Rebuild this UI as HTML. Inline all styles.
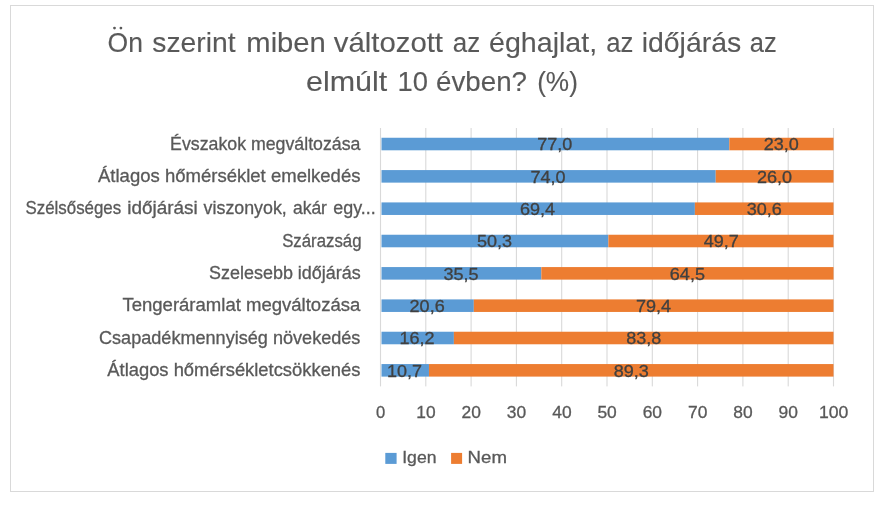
<!DOCTYPE html>
<html><head><meta charset="utf-8"><title>Chart</title>
<style>
html,body{margin:0;padding:0;background:#fff;}
body{width:884px;height:507px;overflow:hidden;}
svg{display:block;font-family:"Liberation Sans",sans-serif;will-change:transform;}
</style></head><body>
<svg width="884" height="507" viewBox="0 0 884 507">
<rect x="0" y="0" width="884" height="507" fill="#ffffff"/>
<g>
<rect x="10.5" y="5.5" width="863" height="486" fill="#fff" stroke="#d9d9d9" stroke-width="1"/>
<rect x="379.95" y="128.0" width="1.1" height="258.4" fill="#d9d9d9"/>
<rect x="425.25" y="128.0" width="1.1" height="258.4" fill="#d9d9d9"/>
<rect x="470.55" y="128.0" width="1.1" height="258.4" fill="#d9d9d9"/>
<rect x="515.85" y="128.0" width="1.1" height="258.4" fill="#d9d9d9"/>
<rect x="561.15" y="128.0" width="1.1" height="258.4" fill="#d9d9d9"/>
<rect x="606.45" y="128.0" width="1.1" height="258.4" fill="#d9d9d9"/>
<rect x="651.75" y="128.0" width="1.1" height="258.4" fill="#d9d9d9"/>
<rect x="697.05" y="128.0" width="1.1" height="258.4" fill="#d9d9d9"/>
<rect x="742.35" y="128.0" width="1.1" height="258.4" fill="#d9d9d9"/>
<rect x="787.65" y="128.0" width="1.1" height="258.4" fill="#d9d9d9"/>
<rect x="832.95" y="128.0" width="1.1" height="258.4" fill="#d9d9d9"/>
<rect x="381.50" y="137.75" width="347.81" height="12.55" fill="#5b9bd5"/>
<rect x="729.31" y="137.75" width="104.19" height="12.55" fill="#ed7d31"/>
<rect x="381.50" y="170.08" width="334.22" height="12.55" fill="#5b9bd5"/>
<rect x="715.72" y="170.08" width="117.78" height="12.55" fill="#ed7d31"/>
<rect x="381.50" y="202.41" width="313.38" height="12.55" fill="#5b9bd5"/>
<rect x="694.88" y="202.41" width="138.62" height="12.55" fill="#ed7d31"/>
<rect x="381.50" y="234.74" width="226.86" height="12.55" fill="#5b9bd5"/>
<rect x="608.36" y="234.74" width="225.14" height="12.55" fill="#ed7d31"/>
<rect x="381.50" y="267.07" width="159.82" height="12.55" fill="#5b9bd5"/>
<rect x="541.32" y="267.07" width="292.18" height="12.55" fill="#ed7d31"/>
<rect x="381.50" y="299.40" width="92.32" height="12.55" fill="#5b9bd5"/>
<rect x="473.82" y="299.40" width="359.68" height="12.55" fill="#ed7d31"/>
<rect x="381.50" y="331.73" width="72.39" height="12.55" fill="#5b9bd5"/>
<rect x="453.89" y="331.73" width="379.61" height="12.55" fill="#ed7d31"/>
<rect x="381.50" y="364.06" width="47.47" height="12.55" fill="#5b9bd5"/>
<rect x="428.97" y="364.06" width="404.53" height="12.55" fill="#ed7d31"/>
<text transform="translate(170.08 149.70) scale(0.9975 1)" font-size="17.8" fill="#595959" stroke="#595959" stroke-width="0.3">Évszakok megváltozása</text>
<text transform="translate(537.27 150.45) scale(1.0677 1)" font-size="16.9" fill="#404040" stroke="#404040" stroke-width="0.3">77,0</text>
<text transform="translate(763.77 150.45) scale(1.0677 1)" font-size="16.9" fill="#404040" stroke="#404040" stroke-width="0.3">23,0</text>
<text transform="translate(98.00 182.03) scale(1.0410 1)" font-size="17.8" fill="#595959" stroke="#595959" stroke-width="0.3">Átlagos hőmérséklet emelkedés</text>
<text transform="translate(530.48 182.78) scale(1.0677 1)" font-size="16.9" fill="#404040" stroke="#404040" stroke-width="0.3">74,0</text>
<text transform="translate(756.98 182.78) scale(1.0677 1)" font-size="16.9" fill="#404040" stroke="#404040" stroke-width="0.3">26,0</text>
<text transform="translate(25.44 214.36) scale(0.9497 1)" font-size="17.8" fill="#595959" stroke="#595959" stroke-width="0.3">Szélsőséges</text>
<text transform="translate(127.27 214.36) scale(1.0641 1)" font-size="17.8" fill="#595959" stroke="#595959" stroke-width="0.3">időjárási</text>
<text transform="translate(203.61 214.36) scale(1.0020 1)" font-size="17.8" fill="#595959" stroke="#595959" stroke-width="0.3">viszonyok,</text>
<text transform="translate(292.90 214.36) scale(0.9835 1)" font-size="17.8" fill="#595959" stroke="#595959" stroke-width="0.3">akár</text>
<text transform="translate(333.28 214.36) scale(1.0057 1)" font-size="17.8" fill="#595959" stroke="#595959" stroke-width="0.3">egy...</text>
<text transform="translate(520.01 215.11) scale(1.0678 1)" font-size="16.9" fill="#404040" stroke="#404040" stroke-width="0.3">69,4</text>
<text transform="translate(746.69 215.11) scale(1.0678 1)" font-size="16.9" fill="#404040" stroke="#404040" stroke-width="0.3">30,6</text>
<text transform="translate(282.14 246.69) scale(0.9446 1)" font-size="17.8" fill="#595959" stroke="#595959" stroke-width="0.3">Szárazság</text>
<text transform="translate(476.93 247.44) scale(1.0678 1)" font-size="16.9" fill="#404040" stroke="#404040" stroke-width="0.3">50,3</text>
<text transform="translate(703.70 247.44) scale(1.0679 1)" font-size="16.9" fill="#404040" stroke="#404040" stroke-width="0.3">49,7</text>
<text transform="translate(209.09 279.02) scale(1.0088 1)" font-size="17.8" fill="#595959" stroke="#595959" stroke-width="0.3">Szelesebb időjárás</text>
<text transform="translate(443.41 279.77) scale(1.0678 1)" font-size="16.9" fill="#404040" stroke="#404040" stroke-width="0.3">35,5</text>
<text transform="translate(669.82 279.77) scale(1.0677 1)" font-size="16.9" fill="#404040" stroke="#404040" stroke-width="0.3">64,5</text>
<text transform="translate(122.43 311.35) scale(1.0416 1)" font-size="17.8" fill="#595959" stroke="#595959" stroke-width="0.3">Tengeráramlat megváltozása</text>
<text transform="translate(409.57 312.10) scale(1.0677 1)" font-size="16.9" fill="#404040" stroke="#404040" stroke-width="0.3">20,6</text>
<text transform="translate(635.98 312.10) scale(1.0678 1)" font-size="16.9" fill="#404040" stroke="#404040" stroke-width="0.3">79,4</text>
<text transform="translate(98.99 343.68) scale(1.0169 1)" font-size="17.8" fill="#595959" stroke="#595959" stroke-width="0.3">Csapadékmennyiség növekedés</text>
<text transform="translate(399.48 344.43) scale(1.0672 1)" font-size="16.9" fill="#404040" stroke="#404040" stroke-width="0.3">16,2</text>
<text transform="translate(626.15 344.43) scale(1.0677 1)" font-size="16.9" fill="#404040" stroke="#404040" stroke-width="0.3">83,8</text>
<text transform="translate(107.30 376.01) scale(1.0325 1)" font-size="17.8" fill="#595959" stroke="#595959" stroke-width="0.3">Átlagos hőmérsékletcsökkenés</text>
<text transform="translate(387.02 376.76) scale(1.0672 1)" font-size="16.9" fill="#404040" stroke="#404040" stroke-width="0.3">10,7</text>
<text transform="translate(613.69 376.76) scale(1.0677 1)" font-size="16.9" fill="#404040" stroke="#404040" stroke-width="0.3">89,3</text>
<text transform="translate(376.00 417.90) scale(0.9837 1)" font-size="16.9" fill="#595959" stroke="#595959" stroke-width="0.3">0</text>
<text transform="translate(416.25 417.90) scale(1.0286 1)" font-size="16.9" fill="#595959" stroke="#595959" stroke-width="0.3">10</text>
<text transform="translate(461.46 417.90) scale(1.0296 1)" font-size="16.9" fill="#595959" stroke="#595959" stroke-width="0.3">20</text>
<text transform="translate(506.85 417.90) scale(1.0300 1)" font-size="16.9" fill="#595959" stroke="#595959" stroke-width="0.3">30</text>
<text transform="translate(552.31 417.90) scale(1.0307 1)" font-size="16.9" fill="#595959" stroke="#595959" stroke-width="0.3">40</text>
<text transform="translate(597.45 417.90) scale(1.0300 1)" font-size="16.9" fill="#595959" stroke="#595959" stroke-width="0.3">50</text>
<text transform="translate(642.66 417.90) scale(1.0296 1)" font-size="16.9" fill="#595959" stroke="#595959" stroke-width="0.3">60</text>
<text transform="translate(687.96 417.90) scale(1.0296 1)" font-size="16.9" fill="#595959" stroke="#595959" stroke-width="0.3">70</text>
<text transform="translate(733.30 417.90) scale(1.0298 1)" font-size="16.9" fill="#595959" stroke="#595959" stroke-width="0.3">80</text>
<text transform="translate(778.60 417.90) scale(1.0298 1)" font-size="16.9" fill="#595959" stroke="#595959" stroke-width="0.3">90</text>
<text transform="translate(818.92 417.90) scale(1.0434 1)" font-size="16.9" fill="#595959" stroke="#595959" stroke-width="0.3">100</text>
<text transform="translate(107.61 52.00) scale(0.9683 1)" font-size="27.4" fill="#595959" stroke="#595959" stroke-width="0.12">On</text>
<text transform="translate(152.35 52.00) scale(1.0322 1)" font-size="27.4" fill="#595959" stroke="#595959" stroke-width="0.12">szerint</text>
<text transform="translate(246.30 52.00) scale(1.0661 1)" font-size="27.4" fill="#595959" stroke="#595959" stroke-width="0.12">miben</text>
<text transform="translate(333.75 52.00) scale(1.0713 1)" font-size="27.4" fill="#595959" stroke="#595959" stroke-width="0.12">változott</text>
<text transform="translate(452.86 52.00) scale(0.9493 1)" font-size="27.4" fill="#595959" stroke="#595959" stroke-width="0.12">az</text>
<text transform="translate(489.06 52.00) scale(1.0435 1)" font-size="27.4" fill="#595959" stroke="#595959" stroke-width="0.12">éghajlat,</text>
<text transform="translate(606.27 52.00) scale(0.9379 1)" font-size="27.4" fill="#595959" stroke="#595959" stroke-width="0.12">az</text>
<text transform="translate(641.65 52.00) scale(1.0380 1)" font-size="27.4" fill="#595959" stroke="#595959" stroke-width="0.12">időjárás</text>
<text transform="translate(749.78 52.00) scale(0.9304 1)" font-size="27.4" fill="#595959" stroke="#595959" stroke-width="0.12">az</text>
<text transform="translate(305.98 90.60) scale(1.1116 1)" font-size="27.4" fill="#595959" stroke="#595959" stroke-width="0.12">elmúlt</text>
<text transform="translate(397.54 90.60) scale(1.0000 1)" font-size="27.4" fill="#595959" stroke="#595959" stroke-width="0.12">10</text>
<text transform="translate(436.09 90.60) scale(1.0123 1)" font-size="27.4" fill="#595959" stroke="#595959" stroke-width="0.12">évben?</text>
<text transform="translate(537.13 90.60) scale(0.9571 1)" font-size="27.4" fill="#595959" stroke="#595959" stroke-width="0.12">(%)</text>
<circle cx="114.5" cy="28.1" r="1.4" fill="#595959"/><circle cx="120.9" cy="28.1" r="1.4" fill="#595959"/>
<rect x="385.3" y="452.9" width="11.3" height="11" fill="#5b9bd5"/>
<rect x="451.1" y="452.9" width="11" height="11" fill="#ed7d31"/>
<text transform="translate(402.21 463.40) scale(1.0384 1)" font-size="17.0" fill="#595959" stroke="#595959" stroke-width="0.3">Igen</text>
<text transform="translate(467.61 463.40) scale(1.0958 1)" font-size="17.0" fill="#595959" stroke="#595959" stroke-width="0.3">Nem</text>
</g>
</svg>
</body></html>
